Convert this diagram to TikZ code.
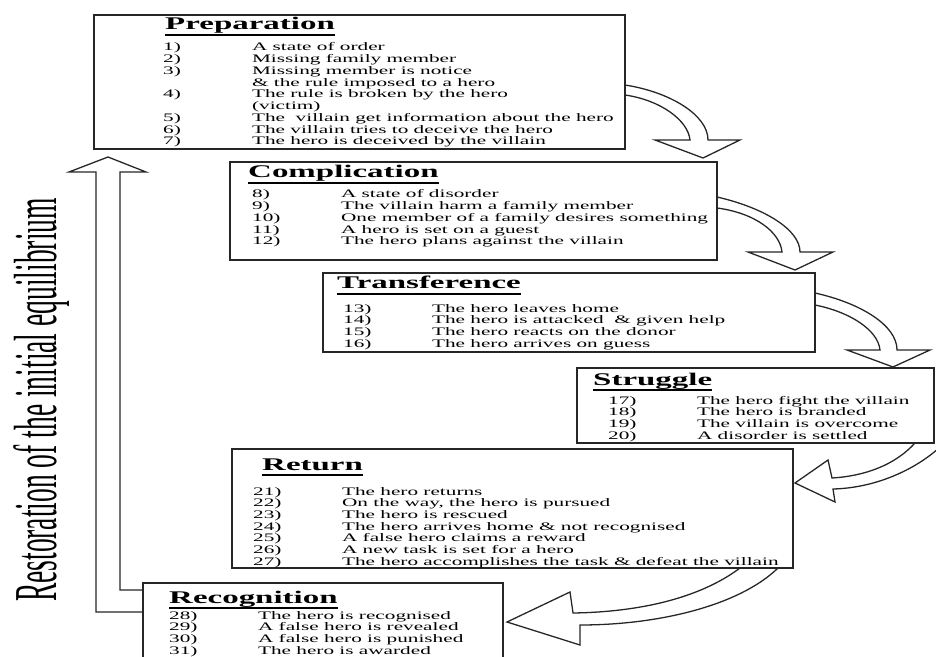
\documentclass[tikz,border=0pt]{standalone}
\usepackage{fontspec}
\setmainfont{Liberation Serif}
\usepackage{graphicx}
\usetikzlibrary{fit}

\newcommand{\wide}[1]{\scalebox{1.85}[1]{#1}}
\newcommand{\stagehead}[1]{\wide{\setbox0=\hbox{#1}\dp0=3pt\vtop{\copy0\kern0.6pt\hrule height 1.3pt width \wd0}}}

\tikzset{
  stage/.style={draw=black!85, line width=1.3pt, inner sep=0pt},
  headtext/.style={font=\fontsize{15.2pt}{16pt}\selectfont\bfseries, inner sep=0pt, anchor=base west},
  listtext/.style={font=\fontsize{9.8pt}{10pt}\selectfont, inner sep=0pt, anchor=base west},
  hollow/.style={draw=black!85, line width=1.1pt, fill=white, line join=miter}
}

\begin{document}
\begin{tikzpicture}[x=0.03cm, y=-0.03cm]
  \useasboundingbox (0,0) rectangle (936,657);

  % Hollow arrows between the stages
  \draw[hollow] (625,85) .. controls (670,92) and (708,115) .. (708,140) -- (740,140) -- (703,158)
    -- (655,140) -- (690,140) .. controls (688,120) and (660,100) .. (625,95);
  \draw[hollow] (717,197) .. controls (765,208) and (800,230) .. (800,252) -- (833,252) -- (795,270)
    -- (748,252) -- (782,252) .. controls (780,232) and (755,213) .. (717,208);
  \draw[hollow] (815,293) .. controls (860,303) and (897,325) .. (897,350) -- (930,350) -- (893,367)
    -- (847,350) -- (880,350) .. controls (878,330) and (850,312) .. (815,305);
  \draw[hollow] (915,443) .. controls (895,465) and (865,476) .. (832,478) -- (828,460) -- (795,483)
    -- (835,502) -- (833,489) .. controls (875,488) and (915,470) .. (940,447);
  \draw[hollow] (740,568) .. controls (700,598) and (640,612) .. (573,613) -- (570,592) -- (507,622)
    -- (580,645) -- (580,625) .. controls (660,625) and (740,605) .. (778,568);

  % Return to the start
  \draw[hollow] (143,612) -- (96,612) -- (96,172) -- (69,172) -- (108,157) -- (146,172)
    -- (120,172) -- (120,590) -- (143,590);
  \node[rotate=90, font=\fontsize{52pt}{52pt}\selectfont, inner sep=0pt] (restore) at (42,400)
    {\scalebox{0.452}[1]{Restoration of the initial equilibrium}};

  % Stage boxes
  \node[stage, fit={(94,15) (625,149)}] (prep) {};
  \node[stage, fit={(230,162) (717,260)}] (comp) {};
  \node[stage, fit={(323,273) (815,352)}] (trans) {};
  \node[stage, fit={(577,368) (934,443)}] (strug) {};
  \node[stage, fit={(232,449) (793,568)}] (ret) {};
  \node[stage, fit={(143,583) (503,690)}] (recog) {};

  % Preparation
  \node[headtext] (prepH) at (165,30) {\stagehead{Preparation}};
  \node[listtext] (prepL) at (163,51) {\wide{\begin{tabular}[t]{@{}p{41pt}@{}l@{}}
    1) & A state of order\\
    2) & Missing family member\\
    3) & Missing member is notice\\
       & \& the rule imposed to a hero\\
    4) & The rule is broken by the hero\\
       & (victim)\\
    5) & The~ villain get information about the hero\\
    6) & The villain tries to deceive the hero\\
    7) & The hero is deceived by the villain
  \end{tabular}}};

  % Complication
  \node[headtext] (compH) at (248,178) {\stagehead{Complication}};
  \node[listtext] (compL) at (252,198) {\wide{\begin{tabular}[t]{@{}p{41pt}@{}l@{}}
    8) & A state of disorder\\
    9) & The villain harm a family member\\
    10) & One member of a family desires something\\
    11) & A hero is set on a guest\\
    12) & The hero plans against the villain
  \end{tabular}}};

  % Transference
  \node[headtext] (transH) at (337,289) {\stagehead{Transference}};
  \node[listtext] (transL) at (343,312) {\wide{\begin{tabular}[t]{@{}p{41pt}@{}l@{}}
    13) & The hero leaves home\\
    14) & The hero is attacked~ \& given help\\
    15) & The hero reacts on the donor\\
    16) & The hero arrives on guess
  \end{tabular}}};

  % Struggle
  \node[headtext] (strugH) at (593,385) {\stagehead{Struggle}};
  \node[listtext] (strugL) at (608,404) {\wide{\begin{tabular}[t]{@{}p{41pt}@{}l@{}}
    17) & The hero fight the villain\\
    18) & The hero is branded\\
    19) & The villain is overcome\\
    20) & A disorder is settled
  \end{tabular}}};

  % Return
  \node[headtext] (retH) at (262,470) {\stagehead{Return}};
  \node[listtext] (retL) at (253,495) {\wide{\begin{tabular}[t]{@{}p{41pt}@{}l@{}}
    21) & The hero returns\\
    22) & On the way, the hero is pursued\\
    23) & The hero is rescued\\
    24) & The hero arrives home \& not recognised\\
    25) & A false hero claims a reward\\
    26) & A new task is set for a hero\\
    27) & The hero accomplishes the task \& defeat the villain
  \end{tabular}}};

  % Recognition
  \node[headtext] (recogH) at (169,603) {\stagehead{Recognition}};
  \node[listtext] (recogL) at (169,619) {\wide{\begin{tabular}[t]{@{}p{41pt}@{}l@{}}
    28) & The hero is recognised\\
    29) & A false hero is revealed\\
    30) & A false hero is punished\\
    31) & The hero is awarded
  \end{tabular}}};
\end{tikzpicture}
\end{document}
